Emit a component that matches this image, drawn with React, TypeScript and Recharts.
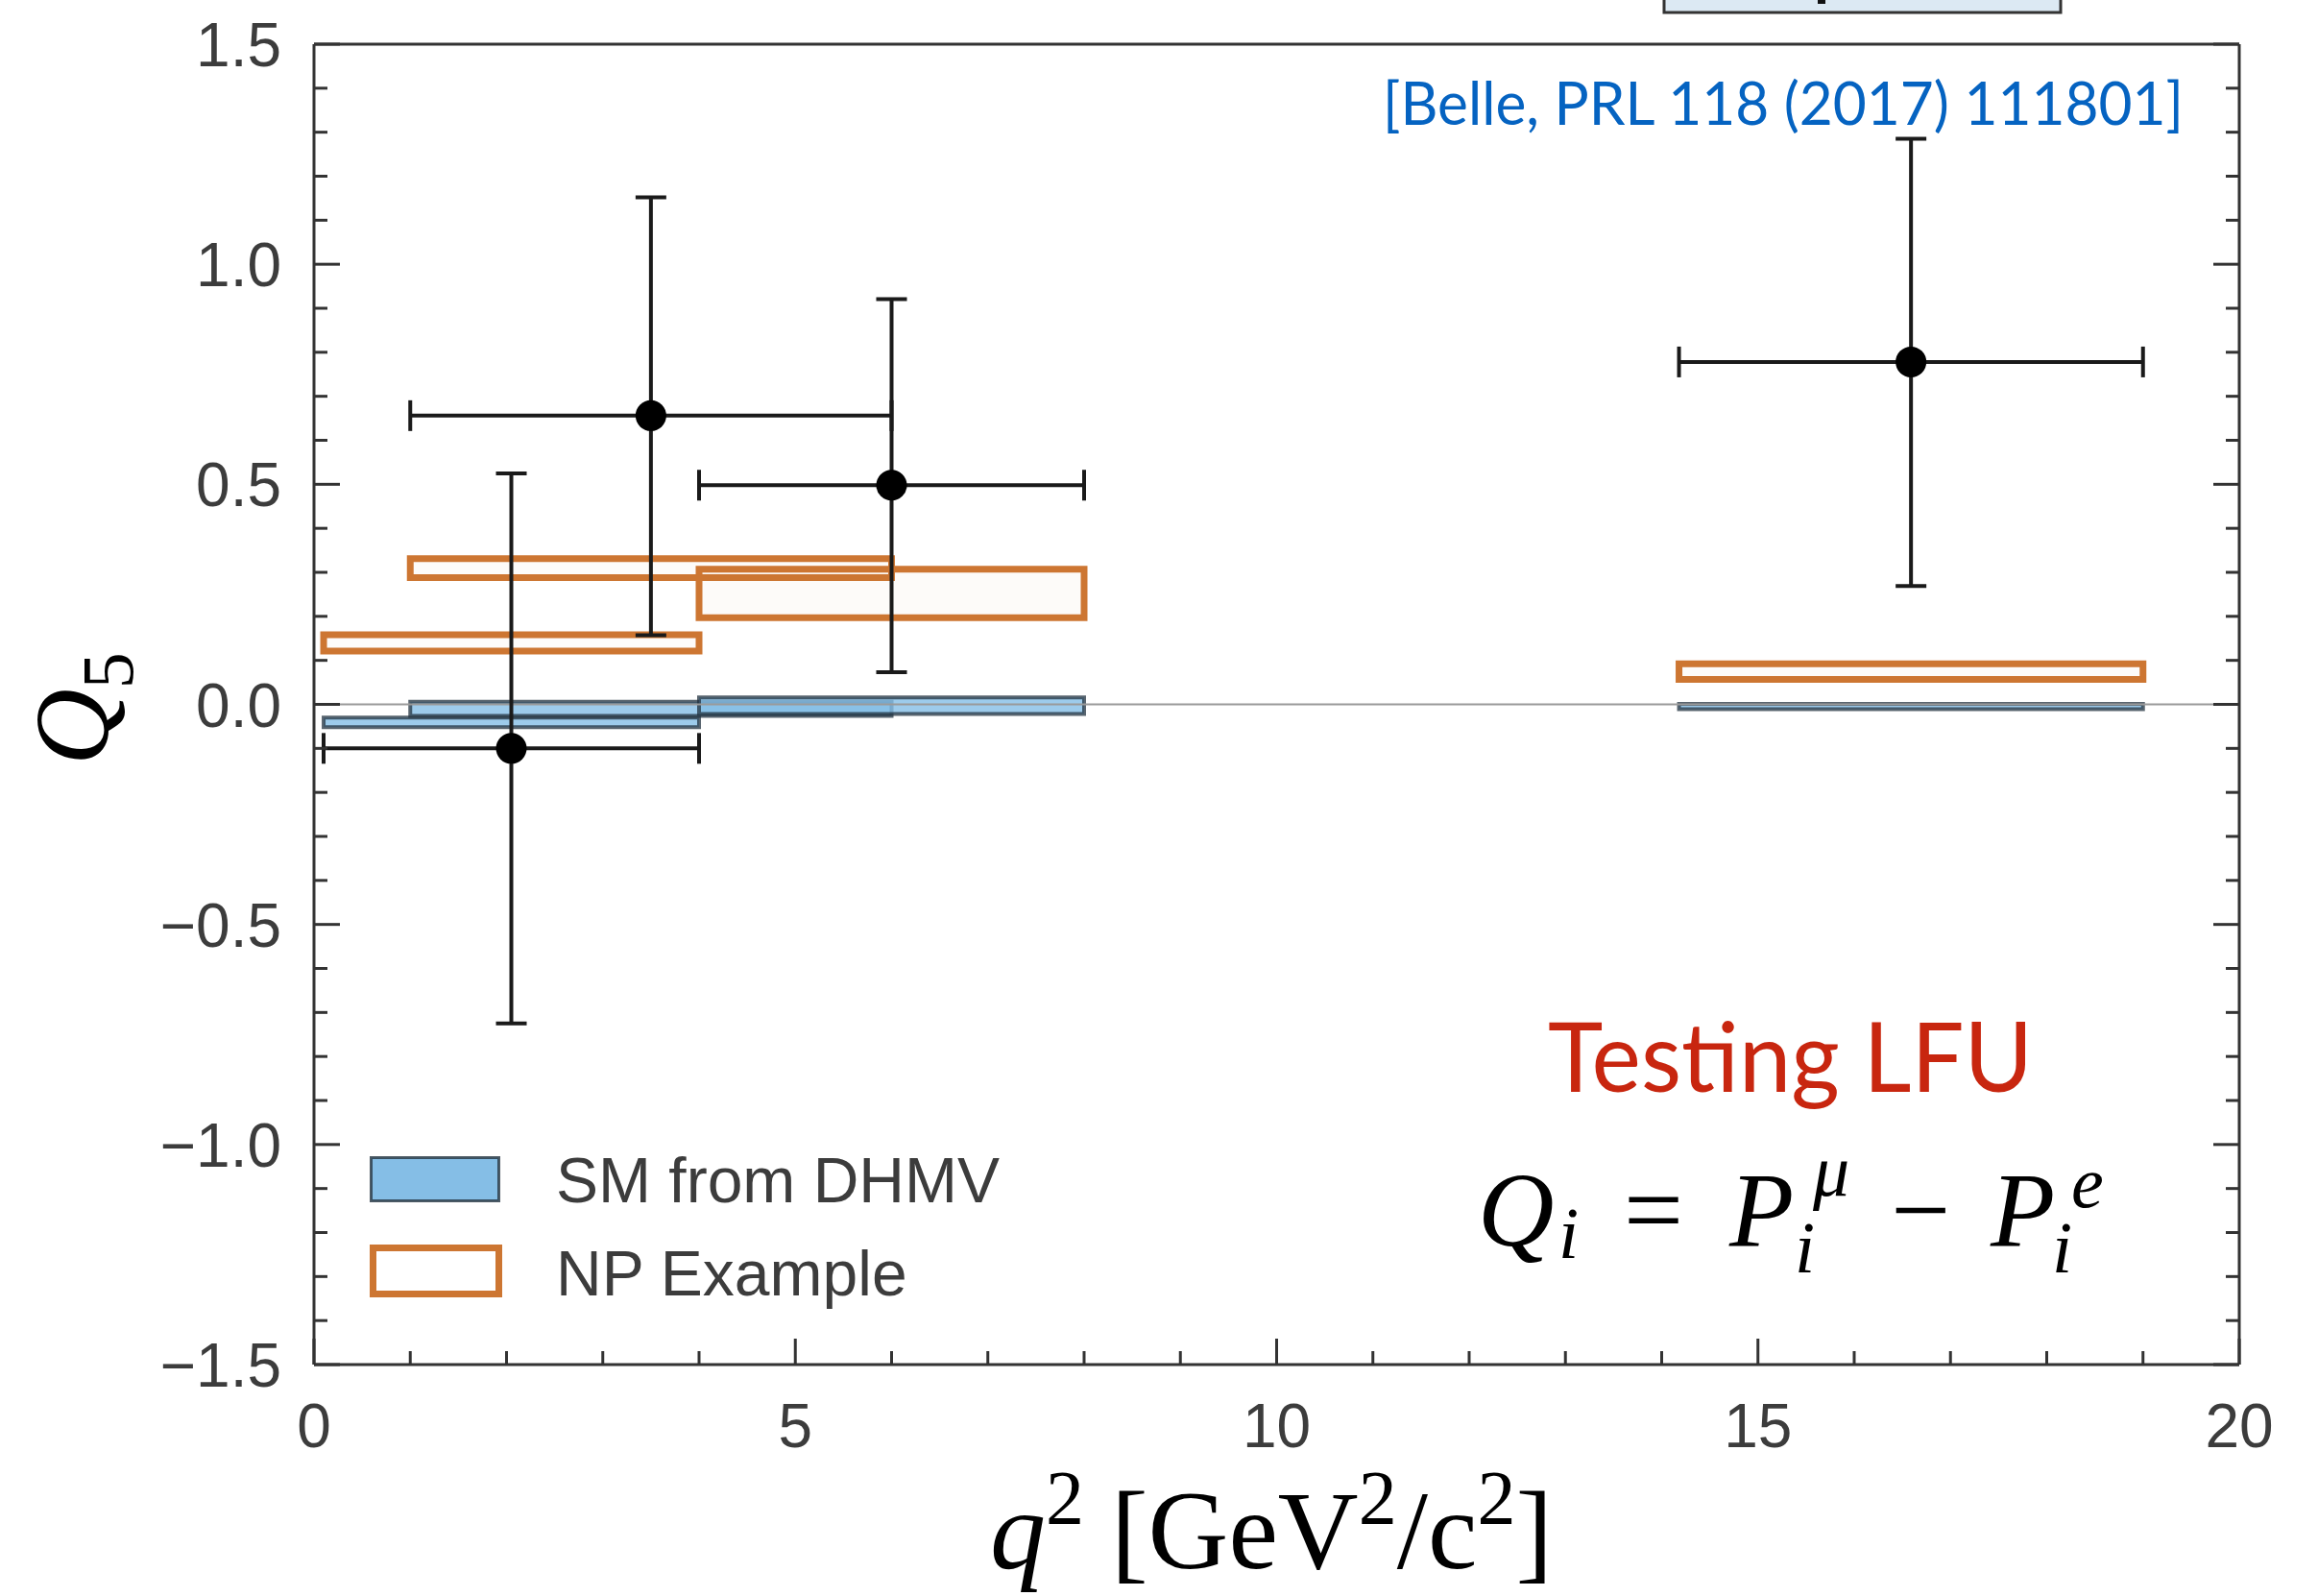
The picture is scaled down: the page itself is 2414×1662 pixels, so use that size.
import React from 'react';
import {
  ComposedChart,
  ErrorBar,
  Legend,
  ReferenceArea,
  ReferenceLine,
  Scatter,
  XAxis,
  YAxis,
} from 'recharts';

const W = 2414;
const H = 1662;

// q² bins shared by the measurement and both predictions
const BIN_LO = [0.1, 1.0, 4.0, 14.18];
const BIN_HI = [4.0, 6.0, 8.0, 19.0];

// Belle Q5 measurement
const Q2_MID = [2.05, 3.5, 6.0, 16.59];
const Q5_VAL = [-0.1, 0.656, 0.498, 0.778];
const Q5_LO = [-0.725, 0.157, 0.073, 0.269];
const Q5_HI = [0.525, 1.152, 0.921, 1.285];

// SM from DHMV bands
const SM_LO = [-0.052, -0.026, -0.022, -0.011];
const SM_HI = [-0.03, 0.006, 0.016, 0.001];

// NP example bands
const NP_LO = [0.121, 0.288, 0.197, 0.057];
const NP_HI = [0.158, 0.331, 0.307, 0.092];

const X_TICKS = [0, 1, 2, 3, 4, 5, 6, 7, 8, 9, 10, 11, 12, 13, 14, 15, 16, 17, 18, 19, 20];
const Y_TICKS = [
  -1.5, -1.4, -1.3, -1.2, -1.1, -1.0, -0.9, -0.8, -0.7, -0.6, -0.5, -0.4, -0.3, -0.2, -0.1, 0,
  0.1, 0.2, 0.3, 0.4, 0.5, 0.6, 0.7, 0.8, 0.9, 1.0, 1.1, 1.2, 1.3, 1.4, 1.5,
];

const LEGEND_ITEMS = [
  { key: 'sm', label: 'SM from DHMV' },
  { key: 'np', label: 'NP Example' },
];

const AXIS = '#333333';
const LABEL = '#3c3c3c';
const SM_FILL = '#85bee6';
const SM_EDGE = '#22323f';
const NP_EDGE = '#cd7632';
const TICK_FONT = '"Liberation Sans", Arial, sans-serif';
const SERIF = '"Liberation Serif", "Times New Roman", serif';
const GILL = 'Lato, "Open Sans", sans-serif';

const MAJOR_LEN = 27;
const MINOR_LEN = 14;
const X_LABEL_DROP = 86;
const Y_LABEL_GAP = 34;

const points = Q2_MID.map((x, i) => ({
  x,
  y: Q5_VAL[i],
  xErr: [x - BIN_LO[i], BIN_HI[i] - x],
  yErr: [Q5_VAL[i] - Q5_LO[i], Q5_HI[i] - Q5_VAL[i]],
}));

const isMajorX = (v: number) => v % 5 === 0;
const isMajorY = (v: number) => Math.round(v * 10) % 5 === 0;
const fmtY = (v: number) => v.toFixed(1).replace('-', '\u2212');

function BottomTick(props: any) {
  const { x, y, payload } = props;
  const v = payload.value as number;
  const major = isMajorX(v);
  const axisY = y - X_LABEL_DROP;
  return (
    <g>
      <line x1={x} x2={x} y1={axisY} y2={axisY - (major ? MAJOR_LEN : MINOR_LEN)} stroke={AXIS} strokeWidth={3} />
      {major && (
        <text x={x} y={y} textAnchor="middle" fontFamily={TICK_FONT} fontSize={64} fill={LABEL}>
          {v}
        </text>
      )}
    </g>
  );
}

function TopTick(props: any) {
  const { x, y, payload } = props;
  const major = isMajorX(payload.value);
  return <line x1={x} x2={x} y1={y} y2={y + (major ? MAJOR_LEN : MINOR_LEN)} stroke={AXIS} strokeWidth={3} />;
}

function LeftTick(props: any) {
  const { x, y, payload } = props;
  const v = payload.value as number;
  const major = isMajorY(v);
  const axisX = x + Y_LABEL_GAP;
  return (
    <g>
      <line x1={axisX} x2={axisX + (major ? MAJOR_LEN : MINOR_LEN)} y1={y} y2={y} stroke={AXIS} strokeWidth={3} />
      {major && (
        <text x={x} y={y + 23} textAnchor="end" fontFamily={TICK_FONT} fontSize={64} fill={LABEL}>
          {fmtY(v)}
        </text>
      )}
    </g>
  );
}

function RightTick(props: any) {
  const { x, y, payload } = props;
  const major = isMajorY(payload.value);
  return <line x1={x} x2={x - (major ? MAJOR_LEN : MINOR_LEN)} y1={y} y2={y} stroke={AXIS} strokeWidth={3} />;
}

function renderDot(p: any) {
  return <circle cx={p.cx} cy={p.cy} r={16} fill="#000" />;
}

function LegendBox() {
  return (
    <svg width={720} height={190}>
      {LEGEND_ITEMS.map((item, i) => (
        <g key={item.key}>
          {item.key === 'sm' ? (
            <rect x={8.5} y={16.5} width={133} height={45} fill={SM_FILL} stroke={SM_EDGE} strokeOpacity={0.8} strokeWidth={3} />
          ) : (
            <rect x={10.5} y={110.5} width={131} height={48} fill="none" stroke={NP_EDGE} strokeWidth={7} />
          )}
          <text x={201} y={63 + i * 97} fontFamily={TICK_FONT} fontSize={66} fill={LABEL}>
            {item.label}
          </text>
        </g>
      ))}
    </svg>
  );
}

export default function App() {
  return (
    <div style={{ position: 'absolute', left: 0, top: 0, width: W, height: H, background: '#fff' }}>
      <ComposedChart width={W} height={H} margin={{ top: 45, right: 81, bottom: 0, left: 0 }}>
        <XAxis
          dataKey="x"
          type="number"
          domain={[0, 20]}
          allowDataOverflow
          ticks={X_TICKS}
          interval={0}
          height={241}
          tickSize={0}
          tickMargin={X_LABEL_DROP}
          tick={BottomTick}
          axisLine={{ stroke: AXIS, strokeWidth: 3 }}
        />
        <XAxis
          xAxisId="top"
          orientation="top"
          type="number"
          domain={[0, 20]}
          allowDataOverflow
          ticks={X_TICKS}
          interval={0}
          height={1}
          tickSize={0}
          tickMargin={0}
          tick={TopTick}
          axisLine={{ stroke: AXIS, strokeWidth: 3 }}
        />
        <YAxis
          type="number"
          domain={[-1.5, 1.5]}
          allowDataOverflow
          ticks={Y_TICKS}
          interval={0}
          width={327}
          tickSize={0}
          tickMargin={Y_LABEL_GAP}
          tick={LeftTick}
          axisLine={{ stroke: AXIS, strokeWidth: 3 }}
        />
        <YAxis
          yAxisId="right"
          orientation="right"
          type="number"
          domain={[-1.5, 1.5]}
          allowDataOverflow
          ticks={Y_TICKS}
          interval={0}
          width={1}
          tickSize={0}
          tickMargin={0}
          tick={RightTick}
          axisLine={{ stroke: AXIS, strokeWidth: 3 }}
        />

        <ReferenceLine y={0} stroke="#9a9a9a" strokeWidth={2} />

        {BIN_LO.map((lo, i) => (
          <ReferenceArea
            key={`sm-${i}`}
            x1={lo}
            x2={BIN_HI[i]}
            y1={SM_LO[i]}
            y2={SM_HI[i]}
            fill={SM_FILL}
            fillOpacity={0.8}
            stroke={SM_EDGE}
            strokeOpacity={0.75}
            strokeWidth={4}
          />
        ))}
        {BIN_LO.map((lo, i) => (
          <ReferenceArea
            key={`np-${i}`}
            x1={lo}
            x2={BIN_HI[i]}
            y1={NP_LO[i]}
            y2={NP_HI[i]}
            fill={NP_EDGE}
            fillOpacity={0.03}
            stroke={NP_EDGE}
            strokeWidth={7}
          />
        ))}

        <Scatter data={points} dataKey="y" shape={renderDot} isAnimationActive={false}>
          <ErrorBar dataKey="xErr" direction="x" width={16} stroke="#1a1a1a" strokeWidth={4} />
          <ErrorBar dataKey="yErr" direction="y" width={16} stroke="#1a1a1a" strokeWidth={4} />
        </Scatter>

        <Legend
          layout="vertical"
          align="center"
          verticalAlign="middle"
          wrapperStyle={{ position: 'absolute', left: 378, top: 1189, width: 720, height: 190 }}
          content={() => <LegendBox />}
        />
      </ComposedChart>

      <svg
        width={W}
        height={H}
        style={{ position: 'absolute', left: 0, top: 0, pointerEvents: 'none' }}
      >
        {/* fragment of the slide box above the plot */}
        <rect x={1733} y={-20} width={413} height={33} fill="#dce9f3" stroke="#333" strokeWidth={3} />
        <rect x={1893} y={0} width={8} height={4} fill="#111" />

        <text x={1440} y={130} fontFamily={GILL} fontSize={62} fill="#0563c1" textLength={834} lengthAdjust="spacingAndGlyphs">
          [Belle, PRL 118 (2017) 111801]
        </text>

        <text x={1612} y={1137} fontFamily={GILL} fontSize={100} fill="#c8260f" textLength={505} lengthAdjust="spacingAndGlyphs">
          Testing LFU
        </text>

        <g fontFamily={SERIF} fill="#000">
          <text x={1539} y={1297} fontSize={110} fontStyle="italic">Q</text>
          <text x={1623} y={1310} fontSize={76} fontStyle="italic">i</text>
          <text x={1691} y={1297} fontSize={110}>=</text>
          <text x={1801} y={1297} fontSize={110} fontStyle="italic">P</text>
          <text x={1888} y={1245} fontSize={76} fontStyle="italic">μ</text>
          <text x={1869} y={1325} fontSize={76} fontStyle="italic">i</text>
          <text x={1969} y={1297} fontSize={110}>{'\u2212'}</text>
          <text x={2073} y={1297} fontSize={110} fontStyle="italic">P</text>
          <text x={2157} y={1257} fontSize={76} fontStyle="italic">e</text>
          <text x={2137} y={1325} fontSize={76} fontStyle="italic">i</text>
        </g>

        <text transform="translate(112, 738) rotate(-90)" textAnchor="middle" fontFamily={SERIF} fontSize={110} fill="#000">
          <tspan fontStyle="italic">Q</tspan>
          <tspan fontSize={76} dy={26}>5</tspan>
        </text>

        <text x={1324} y={1633} textAnchor="middle" fontFamily={SERIF} fontSize={116} fill="#000">
          <tspan fontStyle="italic">q</tspan>
          <tspan fontSize={80} dy={-46}>2</tspan>
          <tspan dy={46} dx={28}>[GeV</tspan>
          <tspan fontSize={80} dy={-46}>2</tspan>
          <tspan dy={46}>/c</tspan>
          <tspan fontSize={80} dy={-46}>2</tspan>
          <tspan dy={46}>]</tspan>
        </text>
      </svg>
    </div>
  );
}
